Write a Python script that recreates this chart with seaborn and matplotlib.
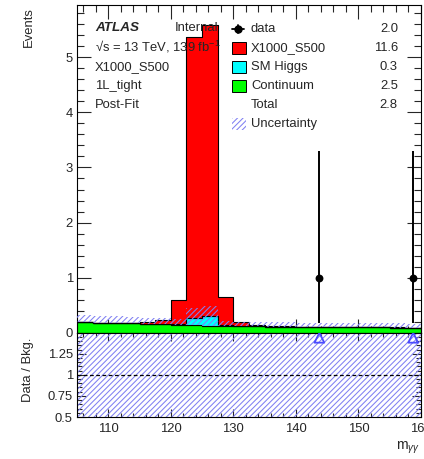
import numpy as np
import pandas as pd
import matplotlib
matplotlib.use("Agg")
import matplotlib.pyplot as plt
import seaborn as sns
from matplotlib.patches import Rectangle
from matplotlib.lines import Line2D
from matplotlib.ticker import MultipleLocator

# ---------------- data ----------------
edges = np.arange(105.0, 160.01, 2.5)
centers = 0.5 * (edges[:-1] + edges[1:])

continuum = [0.190, 0.183, 0.176, 0.169, 0.162, 0.155, 0.145, 0.135, 0.128, 0.122, 0.118,
             0.114, 0.111, 0.108, 0.106, 0.104, 0.102, 0.100, 0.098, 0.096, 0.094, 0.092]
sm_higgs = [0, 0, 0, 0, 0, 0, 0.010, 0.140, 0.180, 0.010, 0,
            0, 0, 0, 0, 0, 0, 0, 0, 0, 0, 0]
signal = [0, 0, 0, 0.010, 0.030, 0.070, 0.445, 5.085, 5.280, 0.520, 0.070,
          0.030, 0.015, 0.010, 0.005, 0.003, 0.002, 0.002, 0.001, 0.001, 0.001, 0.001]
rel_unc = [0.68, 0.68, 0.68, 0.68, 0.68, 0.68, 0.62, 0.60, 0.60, 0.64, 0.68,
           0.70, 0.70, 0.72, 0.72, 0.74, 0.74, 0.76, 0.76, 0.78, 0.78, 0.80]
data = [0, 0, 0, 0, 0, 0, 0, 0, 0, 0, 0,
        0, 0, 0, 0, 1, 0, 0, 0, 0, 0, 1]
data_err_lo = [0.827] * 22
data_err_hi = [2.299] * 22

procs = ["X1000_S500", "SM Higgs", "Continuum"]
colors = {"X1000_S500": "#ff0000", "SM Higgs": "#00ffff", "Continuum": "#00ff00"}
legend_rows = ["data", "X1000_S500", "SM Higgs", "Continuum", "Total", "Uncertainty"]
legend_vals = ["2.0", "11.6", "0.3", "2.5", "2.8", ""]
info_lines = ["X1000_S500", "1L_tight", "Post-Fit"]

# ---------------- style ----------------
sns.set_style("ticks")
plt.rcParams["font.family"] = ["Liberation Sans", "DejaVu Sans"]
plt.rcParams["mathtext.fontset"] = "custom"
plt.rcParams["mathtext.rm"] = "Liberation Sans"
plt.rcParams["mathtext.it"] = "Liberation Sans:italic"
plt.rcParams["hatch.linewidth"] = 0.75
FS = 9.4
HATCH_C = "#8080f2"
HATCH = "//////"

W, H = 424, 459
def fx(x):
    return x / W
def fy(y):
    return 1 - y / H

fig = plt.figure(figsize=(W / 100, H / 100), dpi=100)
ax = fig.add_axes([fx(77), fy(332.7), (421 - 77) / W, (332.7 - 5) / H])
rax = fig.add_axes([fx(77), fy(417), (421 - 77) / W, (417 - 332.7) / H])

# ---------------- main panel ----------------
df = pd.DataFrame({
    "m": np.tile(centers, 3),
    "w": np.concatenate([signal, sm_higgs, continuum]),
    "proc": np.repeat(procs, len(centers)),
})
sns.histplot(data=df, x="m", weights="w", hue="proc", hue_order=procs,
             multiple="stack", bins=list(edges), element="step", palette=colors,
             edgecolor="black", linewidth=0.8, alpha=1, legend=False, ax=ax)

cont = np.array(continuum)
bkg = cont + np.array(sm_higgs)
ru = np.array(rel_unc)
band_hi = bkg * (1 + ru)
ax.fill_between(edges, np.append(cont, cont[-1]), np.append(band_hi, band_hi[-1]),
                step="post", facecolor="none", edgecolor=HATCH_C, linewidth=0,
                hatch=HATCH, zorder=5)

d = np.array(data, dtype=float)
mask = d > 0
ax.errorbar(centers[mask], d[mask],
            yerr=[np.array(data_err_lo)[mask], np.array(data_err_hi)[mask]],
            fmt="none", ecolor="black", elinewidth=1.4, capsize=0, zorder=6)
sns.scatterplot(x=centers[mask], y=d[mask], color="black", s=32, marker="o",
                edgecolor="black", linewidth=0, ax=ax, zorder=7, legend=False)

ax.set_xlim(105, 160)
ax.set_ylim(0, 5.95)
ax.set_xlabel("")
ax.set_ylabel("")
ax.xaxis.set_major_locator(MultipleLocator(10))
ax.xaxis.set_minor_locator(MultipleLocator(2))
ax.yaxis.set_major_locator(MultipleLocator(1))
ax.yaxis.set_minor_locator(MultipleLocator(0.2))
ax.tick_params(which="both", direction="in", top=True, right=True,
               labelbottom=False, labelsize=FS, width=0.8, pad=3)
ax.tick_params(which="major", length=10)
ax.tick_params(which="minor", length=5)

# ---------------- ratio panel ----------------
rlo = 1 - ru
rhi = 1 + ru
rax.fill_between(edges, np.append(rlo, rlo[-1]), np.append(rhi, rhi[-1]),
                 step="post", facecolor="none", edgecolor=HATCH_C, linewidth=0,
                 hatch=HATCH, zorder=2)
rax.axhline(1.0, color="black", linestyle=(0, (3, 2)), linewidth=0.9, zorder=3)
r_lo_lim, r_hi_lim = 0.5, 1.5
ratio = d / bkg
over = ratio > r_hi_lim
sns.scatterplot(x=centers[over],
                y=np.full(over.sum(), r_hi_lim - 0.06 * (r_hi_lim - r_lo_lim)),
                marker="^", s=50, facecolor="none", edgecolor="#4b4bff",
                linewidth=1.3, ax=rax, zorder=4, legend=False)
rax.set_xlim(105, 160)
rax.set_ylim(r_lo_lim, r_hi_lim)
rax.xaxis.set_major_locator(MultipleLocator(10))
rax.xaxis.set_minor_locator(MultipleLocator(2))
rax.set_yticks([0.5, 0.75, 1.0, 1.25])
rax.set_yticklabels(["0.5", "0.75", "1", "1.25"])
rax.yaxis.set_minor_locator(MultipleLocator(0.05))
rax.tick_params(which="both", direction="in", top=True, right=True,
                labelsize=FS, width=0.8, pad=3)
rax.tick_params(axis="x", which="major", length=6, pad=4)
rax.tick_params(axis="x", which="minor", length=3)
rax.tick_params(axis="y", which="major", length=6.5)
rax.tick_params(axis="y", which="minor", length=3.3)

for a in (ax, rax):
    for s in a.spines.values():
        s.set_linewidth(0.8)
        s.set_color("black")

# ---------------- axis titles ----------------
fig.text(fx(29), fy(7), "Events", rotation=90, ha="center", va="top", fontsize=FS)
fig.text(fx(28), fy(370), "Data / Bkg.", rotation=90, ha="center", va="center", fontsize=FS)
fig.text(fx(420), fy(448), r"m$_{\gamma\gamma}$", ha="right", va="center", fontsize=FS + 0.6)

# ---------------- labels ----------------
fig.text(fx(95), fy(28), "ATLAS", fontsize=FS + 0.3, fontweight="bold", fontstyle="italic",
         ha="left", va="center")
fig.text(fx(175), fy(28), "Internal", fontsize=FS, ha="left", va="center")
fig.text(fx(95), fy(47), "\u221As = 13 TeV, 139 fb$^{-1}$", fontsize=FS, ha="left", va="center")
for i, t in enumerate(info_lines):
    fig.text(fx(95), fy(67 + 19 * i), t, fontsize=FS, ha="left", va="center")

# ---------------- legend ----------------
for i, (name, val) in enumerate(zip(legend_rows, legend_vals)):
    yc = 29 + 19 * i
    fig.text(fx(251), fy(yc), name, fontsize=FS, ha="left", va="center")
    if val:
        fig.text(fx(398), fy(yc), val, fontsize=FS, ha="right", va="center")
    if name == "data":
        fig.add_artist(Line2D([fx(232), fx(244)], [fy(yc), fy(yc)], color="black", lw=1.3))
        fig.add_artist(Line2D([fx(238), fx(238)], [fy(yc - 4), fy(yc + 4)], color="black", lw=1.3))
        fig.add_artist(Line2D([fx(238)], [fy(yc)], marker="o", markersize=5, color="black"))
    elif name in colors:
        fig.add_artist(Rectangle((fx(232), fy(yc + 6)), 14 / W, 12 / H,
                                 facecolor=colors[name], edgecolor="black", linewidth=0.7,
                                 transform=fig.transFigure))
    elif name == "Uncertainty":
        fig.add_artist(Rectangle((fx(232), fy(yc + 6)), 14 / W, 12 / H,
                                 facecolor="none", edgecolor=HATCH_C, linewidth=0,
                                 hatch=HATCH, transform=fig.transFigure))

fig.savefig("out.png", dpi=100)
